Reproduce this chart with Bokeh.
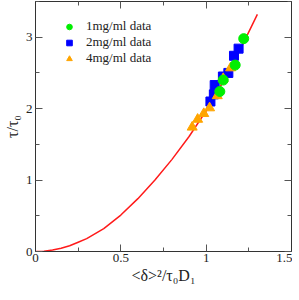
from bokeh.plotting import figure
from bokeh.models import LinearAxis, FixedTicker, Range1d, Legend, LegendItem
from bokeh.embed import file_html
from bokeh.resources import INLINE

# theory curve
curve_x = [0.0, 0.05, 0.1, 0.15, 0.2, 0.25, 0.3, 0.4, 0.5, 0.6, 0.7, 0.8, 0.9, 1.0, 1.1, 1.2, 1.3]
curve_y = [0.0, 0.005, 0.02, 0.045, 0.08, 0.13, 0.18, 0.32, 0.51, 0.74, 1.0, 1.29, 1.61, 1.97, 2.38, 2.83, 3.32]

# data series
g_x = [1.08, 1.10, 1.17, 1.22]
g_y = [2.24, 2.40, 2.61, 2.98]
b_x = [1.025, 1.045, 1.05, 1.098, 1.13, 1.163, 1.19]
b_y = [2.10, 2.20, 2.33, 2.45, 2.50, 2.74, 2.84]
o_x = [0.918, 0.95, 0.986, 1.02, 1.065, 1.10, 1.143]
o_y = [1.74, 1.85, 1.93, 2.01, 2.18, 2.42, 2.57]

x_ticks = [0, 0.5, 1, 1.5]
x_minor = [0.25, 0.75, 1.25]
y_ticks = [0, 1, 2, 3]
y_minor = [0.5, 1.5, 2.5, 3.5]

labels = ["1mg/ml data", "2mg/ml data", "4mg/ml data"]

FONT = "Liberation Serif"
FRAME_W = 256
FRAME_H = 250

p = figure(frame_width=FRAME_W, frame_height=FRAME_H, output_backend="svg", toolbar_location=None,
           x_range=Range1d(0, 1.5), y_range=Range1d(0, 3.5),
           min_border_left=26, min_border_right=1, min_border_top=1, min_border_bottom=0)
p.xgrid.visible = False
p.ygrid.visible = False
p.outline_line_color = "#333333"
p.background_fill_color = "white"
p.border_fill_color = "white"

xt = FixedTicker(ticks=x_ticks, minor_ticks=x_minor)
yt = FixedTicker(ticks=y_ticks, minor_ticks=y_minor)


def style(ax):
    ax.major_tick_in = 7
    ax.major_tick_out = 0
    ax.minor_tick_in = 4
    ax.minor_tick_out = 0
    ax.axis_line_color = "#333333"
    ax.major_tick_line_color = "#555555"
    ax.minor_tick_line_color = "#555555"
    ax.major_label_text_font = FONT
    ax.major_label_text_color = "#222222"
    ax.major_label_text_font_size = "13px"


p.xaxis.ticker = xt
p.yaxis.ticker = yt
style(p.xaxis[0])
style(p.yaxis[0])
p.xaxis.major_label_standoff = 2
p.yaxis.major_label_standoff = 3
p.xaxis.axis_label = "<δ>²/τ₀D₁"
p.yaxis.axis_label = "τ/τ₀"
for ax in (p.xaxis[0], p.yaxis[0]):
    ax.axis_label_text_font = FONT
    ax.axis_label_text_font_style = "normal"
    ax.axis_label_text_font_size = "16px"
    ax.axis_label_text_color = "#222222"
    ax.axis_label_standoff = 2

top = LinearAxis(ticker=xt, major_label_overrides={t: "" for t in x_ticks})
style(top)
top.major_label_standoff = 0
p.add_layout(top, "above")
right = LinearAxis(ticker=yt, major_label_overrides={t: "" for t in y_ticks})
style(right)
right.major_label_standoff = 0
p.add_layout(right, "right")

p.line(curve_x, curve_y, line_color="#ff1a1a", line_width=1.5)
rb = p.scatter(b_x, b_y, marker="square", size=9, fill_color="#0000ff", line_color="#0000ff")
ro = p.scatter(o_x, o_y, marker="triangle", size=10, fill_color="#ffa500", line_color="#ffa500")
rg = p.scatter(g_x, g_y, marker="circle", size=10, fill_color="#00ee00", line_color="#00ee00")

leg = Legend(items=[LegendItem(label=labels[0], renderers=[rg]),
                    LegendItem(label=labels[1], renderers=[rb]),
                    LegendItem(label=labels[2], renderers=[ro])])
leg.border_line_color = None
leg.background_fill_alpha = 0
leg.label_text_font = FONT
leg.label_text_font_size = "13px"
leg.label_text_color = "#222222"
leg.glyph_width = 14
leg.glyph_height = 15
leg.label_height = 15
leg.spacing = 0
leg.label_standoff = 10
leg.margin = 0
leg.padding = 0
leg.location = (27, FRAME_H - 20 - 45)
p.add_layout(leg, "center")

open("out.html", "w").write(file_html(p, INLINE))
